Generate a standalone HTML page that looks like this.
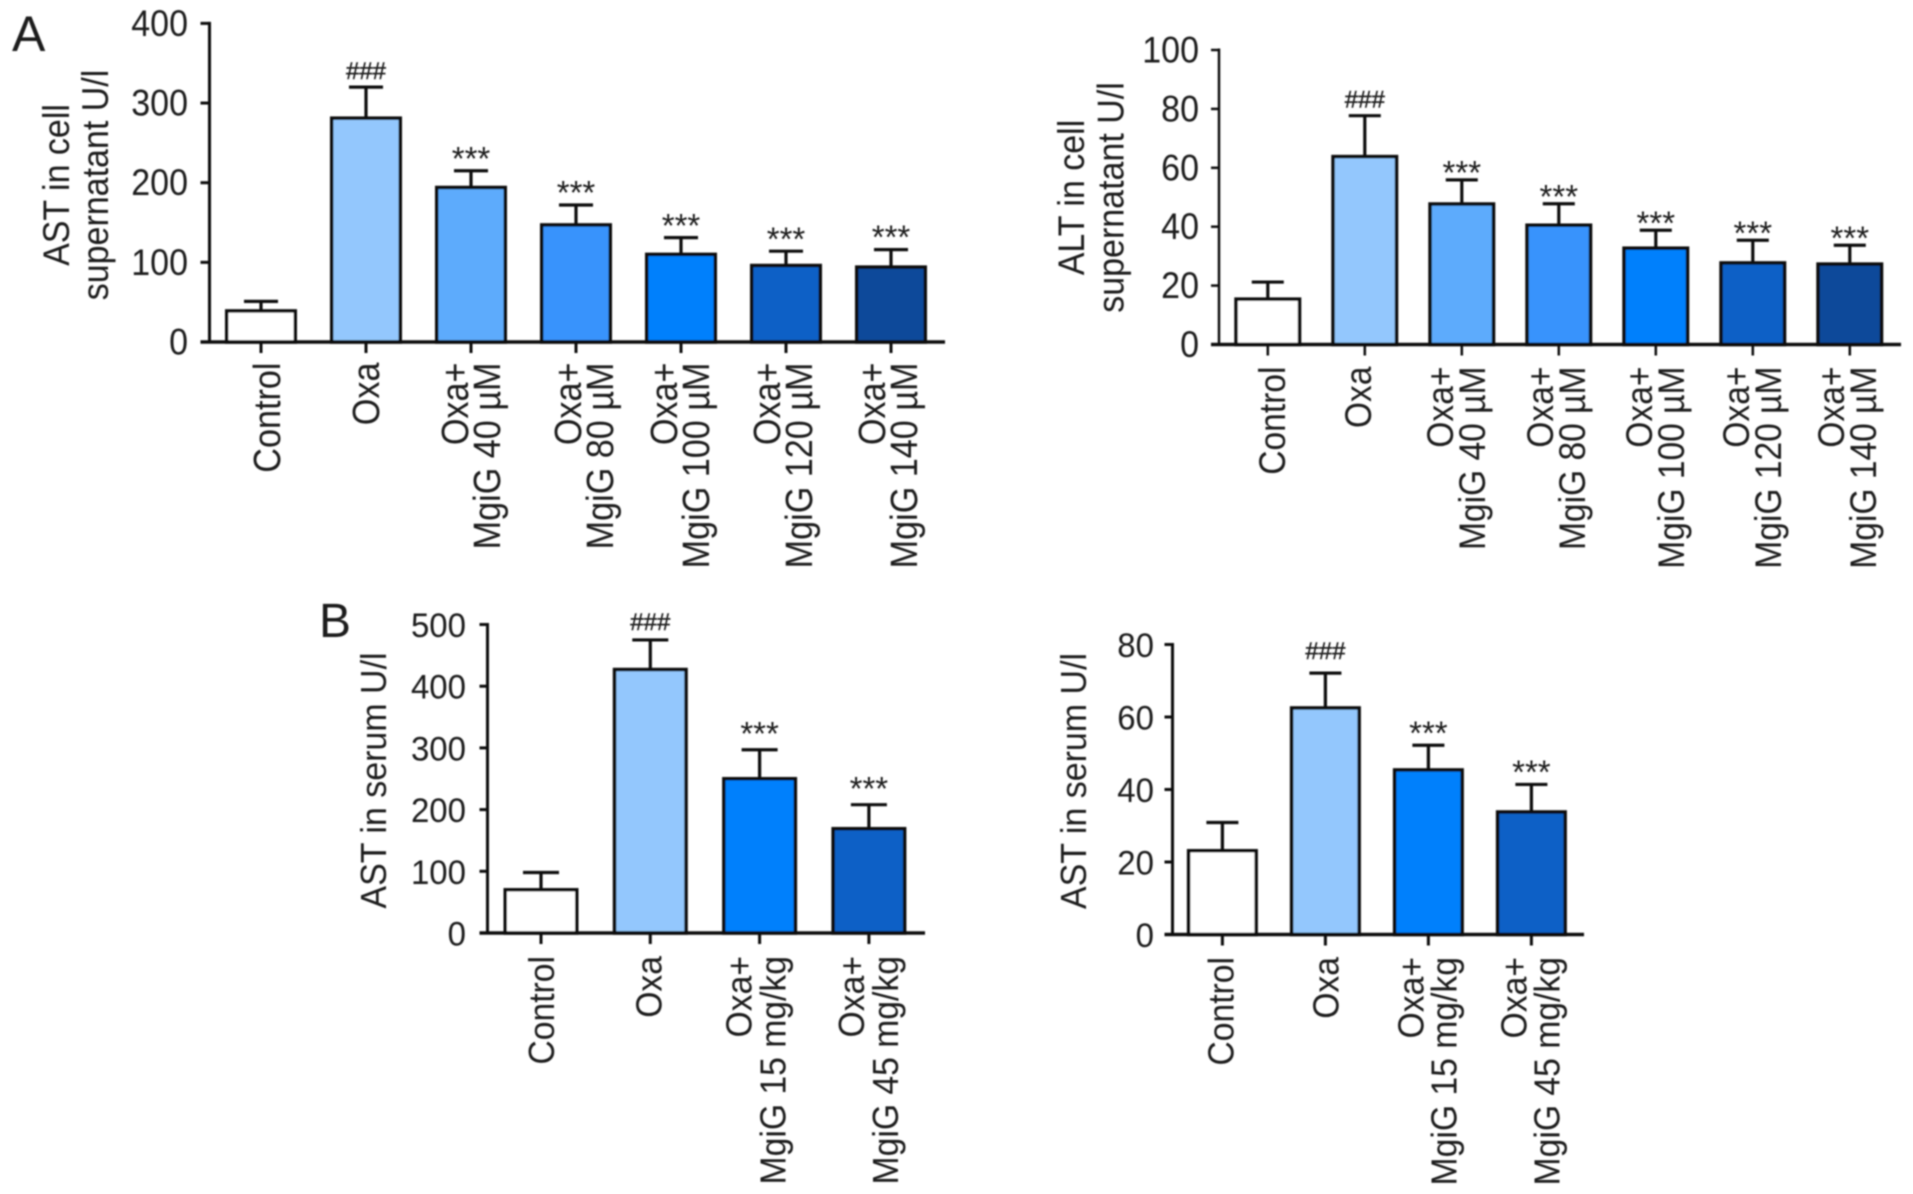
<!DOCTYPE html>
<html lang="en">
<head>
<meta charset="utf-8">
<title>AST and ALT bar charts</title>
<style>
html,body{margin:0;padding:0;background:#fff;width:1913px;height:1194px;overflow:hidden}
svg{display:block}
text{font-family:"Liberation Sans",Arial,sans-serif;fill:#1c1c1c}
</style>
</head>
<body>
<svg id="figure" xmlns="http://www.w3.org/2000/svg" width="1913" height="1194" viewBox="0 0 1913 1194">
<defs><filter id="soft" x="-2%" y="-2%" width="104%" height="104%"><feGaussianBlur stdDeviation="0.7"/></filter></defs>
<rect width="1913" height="1194" fill="#fff"/>
<g id="root" filter="url(#soft)">
<text x="12" y="51" font-size="50">A</text>
<text x="319" y="637" font-size="48">B</text>
</g>
</svg>
<script>
const cellCategories = ['Control', 'Oxa', 'Oxa+|MgiG 40 µM', 'Oxa+|MgiG 80 µM', 'Oxa+|MgiG 100 µM', 'Oxa+|MgiG 120 µM', 'Oxa+|MgiG 140 µM'];
const serumCategories = ['Control', 'Oxa', 'Oxa+|MgiG 15 mg/kg', 'Oxa+|MgiG 45 mg/kg'];
const cellSignificance = ['', '###', '***', '***', '***', '***', '***'];
const serumSignificance = ['', '###', '***', '***'];
const barColors = ['#ffffff', '#93c7fd', '#5dabfc', '#3793fc', '#0680fc', '#0761c6', '#07489a'];
const serumBarColors = ['#ffffff', '#93c7fd', '#0680fc', '#0761c6'];

const astCellMeans = [39, 281, 194, 147, 110, 96, 94];
const astCellErrors = [12, 39, 21, 25, 21, 18, 22];
const astCellTicks = [0, 100, 200, 300, 400];

const altCellMeans = [15.4, 63.8, 47.7, 40.5, 32.7, 27.7, 27.3];
const altCellErrors = [5.8, 13.9, 8.2, 7.3, 6.1, 7.7, 6.4];
const altCellTicks = [0, 20, 40, 60, 80, 100];

const astSerumMeans = [70, 427, 250, 169];
const astSerumErrors = [28, 48, 47, 39];
const astSerumTicks = [0, 100, 200, 300, 400, 500];

const astSerum2Means = [23.1, 62.5, 45.4, 33.8];
const astSerum2Errors = [7.8, 9.6, 6.8, 7.6];
const astSerum2Ticks = [0, 20, 40, 60, 80];

const SVGNS = 'http://www.w3.org/2000/svg';
const root = document.getElementById('root');
const INK = '#0e0e0e';

function mk(tag, attrs, parent) {
  const el = document.createElementNS(SVGNS, tag);
  for (const k in attrs) el.setAttribute(k, attrs[k]);
  parent.appendChild(el);
  return el;
}

function drawChart(c) {
  const g = mk('g', {}, root);
  
  

  const yMax = c.ticks[c.ticks.length - 1];
  const yScale = v => c.base - v * (c.base - c.top) / yMax;
  const xScale = i => c.first + i * c.step;

  // bars and error bars
  c.means.forEach((m, i) => {
    const cx = xScale(i), yTop = yScale(m), yCap = yScale(m + c.errors[i]);
    const stem = mk('line', {x1: cx, x2: cx, y1: yTop, y2: yCap, stroke: INK, 'stroke-width': c.sw}, g);
    
    
    const cap = mk('line', {x1: cx - c.cap / 2, x2: cx + c.cap / 2, y1: yCap, y2: yCap, stroke: INK, 'stroke-width': c.sw}, g);
    
    
    const bar = mk('rect', {x: cx - c.barW / 2 + 1.75, y: yTop, width: c.barW - 3.5, height: c.base - yTop, fill: c.colors[i], stroke: INK, 'stroke-width': 3.5}, g);
    
    

    const mark = c.sig[i];
    if (mark) {
      const isHash = mark[0] === '#';
      const fs = isHash ? 24 : 33;
      const yText = isHash ? yCap - c.hashGap : yCap - c.starGap + 0.58 * fs;
      const sig = mk('text', {x: cx, y: yText, 'font-size': fs, 'text-anchor': 'middle', stroke: isHash ? '#1c1c1c' : 'none', 'stroke-width': isHash ? 0.4 : 0}, g);
      sig.textContent = mark;
      
      
    }
  });

  // y axis
  const yAxis = mk('line', {x1: c.axisX, x2: c.axisX, y1: c.top - 1.5, y2: c.base, stroke: INK, 'stroke-width': c.axisW}, g);
  
  
  c.ticks.forEach(t => {
    const y = yScale(t);
    const tick = mk('line', {x1: c.axisX - c.tickLen, x2: c.axisX, y1: y, y2: y, stroke: INK, 'stroke-width': c.axisW}, g);
    
    
    const lab = mk('text', {transform: `translate(${c.tickLabelX},${y + 12.5}) scale(1,${c.tickStretch})`, 'font-size': c.tickFont, 'text-anchor': 'end'}, g);
    lab.textContent = String(t);
    
    
  });

  // x axis
  const xAxis = mk('line', {x1: c.axisX - c.tickLen, x2: c.xEnd, y1: c.base, y2: c.base, stroke: INK, 'stroke-width': c.baseW}, g);
  
  
  c.categories.forEach((name, i) => {
    const cx = xScale(i);
    const tick = mk('line', {x1: cx, x2: cx, y1: c.base, y2: c.base + 11, stroke: INK, 'stroke-width': c.axisW}, g);
    
    
    name.split('|').forEach((line, k) => {
      const bx = cx + c.labelNudge[i] + k * c.lineGap;
      const lab = mk('text', {transform: `translate(${bx},${c.labelTop}) rotate(-90) scale(1,${c.labelStretch})`, 'font-size': c.labelFont, 'text-anchor': 'end'}, g);
      lab.textContent = line;
      
      
    });
  });

  // y axis title
  c.title.forEach((line, k) => {
    const t = mk('text', {transform: `translate(${c.titleX[k]},${c.titleY}) rotate(-90) scale(1,${c.labelStretch})`, 'font-size': c.titleFont, 'text-anchor': 'middle'}, g);
    t.textContent = line;
    
    
  });
}

drawChart({
  name: 'ast-cell-chart', categories: cellCategories, means: astCellMeans, errors: astCellErrors, ticks: astCellTicks,
  sig: cellSignificance, colors: barColors,
  top: 23.4, base: 342, first: 261, step: 105, barW: 72, cap: 34, sw: 3.2, axisX: 209.5, axisW: 3, baseW: 3.5, tickLen: 9, xEnd: 945,
  tickLabelX: 188, tickFont: 34, tickStretch: 1.1, labelFont: 34.2, labelStretch: 1.1, labelTop: 362.5, lineGap: 32,
  labelNudge: [19, 13, -3, 5, -4, -6, -6], hashGap: 8, starGap: 20,
  title: ['AST in cell', 'supernatant U/l'], titleX: [69, 108], titleY: 185, titleFont: 34
});

drawChart({
  name: 'alt-cell-chart', categories: cellCategories, means: altCellMeans, errors: altCellErrors, ticks: altCellTicks,
  sig: cellSignificance, colors: barColors,
  top: 50, base: 344.5, first: 1267.8, step: 97, barW: 67, cap: 32, sw: 3.2, axisX: 1219, axisW: 2.5, baseW: 3.5, tickLen: 8, xEnd: 1901,
  tickLabelX: 1199, tickFont: 34, tickStretch: 1.1, labelFont: 33.6, labelStretch: 1.1, labelTop: 366.5, lineGap: 32,
  labelNudge: [17, 6, -9, -6, -4, -4, -6], hashGap: 8, starGap: 15,
  title: ['ALT in cell', 'supernatant U/l'], titleX: [1084, 1123.5], titleY: 197.5, titleFont: 34
});

drawChart({
  name: 'ast-serum-chart-left', categories: serumCategories, means: astSerumMeans, errors: astSerumErrors, ticks: astSerumTicks,
  sig: serumSignificance, colors: serumBarColors,
  top: 624.5, base: 933, first: 541, step: 109.3, barW: 75, cap: 36, sw: 3.2, axisX: 487.5, axisW: 3, baseW: 3.5, tickLen: 8, xEnd: 925,
  tickLabelX: 466, tickFont: 33, tickStretch: 1.04, labelFont: 33.7, labelStretch: 1.06, labelTop: 956, lineGap: 34,
  labelNudge: [13, 11, -8, -5], hashGap: 10, starGap: 24,
  title: ['AST in serum U/l'], titleX: [386], titleY: 780.5, titleFont: 34
});

drawChart({
  name: 'ast-serum-chart-right', categories: serumCategories, means: astSerum2Means, errors: astSerum2Errors, ticks: astSerum2Ticks,
  sig: serumSignificance, colors: serumBarColors,
  top: 644.5, base: 934.5, first: 1222.4, step: 103, barW: 71, cap: 32, sw: 3.2, axisX: 1172.5, axisW: 3, baseW: 3.5, tickLen: 8, xEnd: 1584,
  tickLabelX: 1154, tickFont: 33, tickStretch: 1.04, labelFont: 33.7, labelStretch: 1.06, labelTop: 957, lineGap: 33,
  labelNudge: [11, 13, -5, -5], hashGap: 14, starGap: 20,
  title: ['AST in serum U/l'], titleX: [1086], titleY: 781, titleFont: 34
});
</script>
</body>
</html>
